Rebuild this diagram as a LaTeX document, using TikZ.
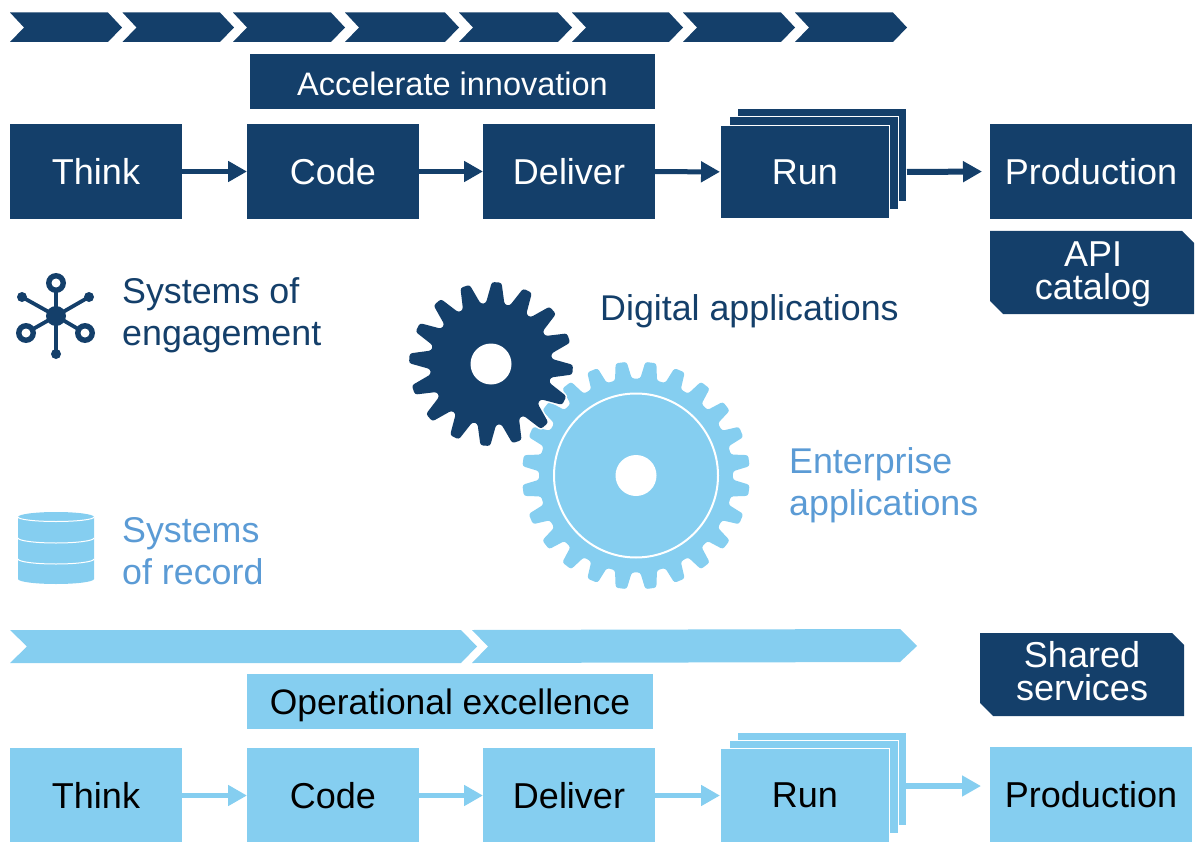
\documentclass[tikz,border=0pt]{standalone}
\usepackage{fontspec}
\setmainfont{Liberation Sans}
\usetikzlibrary{arrows.meta}
\definecolor{navy}{HTML}{143F6A}
\definecolor{sky}{HTML}{85CEF0}
\definecolor{skytext}{HTML}{5B9BD5}
\tikzset{
  x=1pt,y=-1pt,
  box/.style={rectangle,inner sep=0pt,outer sep=0pt,minimum width=#1,minimum height=95pt,font=\fontsize{36}{36}\selectfont},
  box/.default=172pt,
  navybox/.style={box=#1,fill=navy,text=white},
  navybox/.default=172pt,
  skybox/.style={box=#1,fill=sky,text=black},
  skybox/.default=172pt,
  stackd/.style={draw=white,line width=1pt,fill=navy},
  stackl/.style={draw=white,line width=1pt,fill=sky},
  flowd/.style={navy,line width=5pt,-{Triangle[length=19pt,width=20pt]}},
  flowl/.style={sky,line width=5pt,-{Triangle[length=19pt,width=20pt]}},
  label/.style={inner sep=0pt,anchor=base west,font=\fontsize{35.8}{35.8}\selectfont},
  two/.style={inner sep=0pt,align=center,font=\fontsize{36}{33}\selectfont,text=white},
}
% #1 draw options, #2 teeth, #3 first angle, #4 r tip, #5 r root, #6 half tip angle, #7 half base angle
\newcommand{\gearfig}[7]{%
  \path[#1,rounded corners=2.5pt] (#3-180/#2:#5 pt)
    \foreach \i [evaluate=\i as \a using {#3+(\i-1)*360/#2}] in {1,...,#2}{
      -- (\a-#7:#5 pt) -- (\a-#6:#4 pt) -- (\a+#6:#4 pt) -- (\a+#7:#5 pt)
    } -- cycle;}
\begin{document}
\begin{tikzpicture}
\useasboundingbox (0,0) rectangle (1196,842);
% top chevrons
\foreach \s/\e in {10/122,122.5/234,233/345,345/459,459/572,572/683,683/795,795/907}{
  \pgfmathsetmacro{\ee}{\e}
  \fill[navy] (\s,12.5) -- (\ee-14,12.5) -- (\ee,27.5) -- (\ee-14,42) -- (\s,42) -- (\s+14,27.5) -- cycle;
}
\node[navybox=405pt,minimum height=55pt,anchor=north west,font=\fontsize{32.5}{32.5}\selectfont,text height=29pt,text depth=0pt] (accel) at (250,54) {Accelerate innovation};
% top row
\node[navybox,anchor=north west] (think) at (10,124) {Think};
\node[navybox,anchor=north west] (code) at (247,124) {Code};
\node[navybox,anchor=north west] (deliver) at (483,124) {Deliver};
\node[stackd,minimum width=169pt,minimum height=93pt,inner sep=0pt,anchor=north west] (runc) at (737,108) {};
\node[stackd,minimum width=169pt,minimum height=93pt,inner sep=0pt,anchor=north west] (runb) at (729,116) {};
\node[stackd,minimum width=169pt,minimum height=93pt,inner sep=0pt,anchor=north west,font=\fontsize{36}{36}\selectfont,text=white] (run) at (720,125) {Run};
\node[navybox=202pt,anchor=north west] (prod) at (990,124) {Production};
\fill[navy] (990,231) -- (1182,231) -- (1194,243) -- (1194,314) -- (1003,314) -- (990,301) -- cycle;
\node[two] (api) at (1093,274) {API\\catalog};
\draw[flowd] (think) -- (code);
\draw[flowd] (code) -- (deliver);
\draw[flowd] (deliver) -- (run);
\draw[flowd,line width=6pt,shorten >=8pt] (run.east -| runc.east) -- (prod.west);
% icons
\begin{scope}[navy,line width=3.8pt]
\coordinate (hub) at (56,316);
\foreach \p in {(56,283),(22,297),(89,297),(26,333),(85,333),(56,354)} \draw (hub) -- \p;
\fill (hub) circle (10);
\fill (22,297) circle (5); \fill (89,297) circle (5); \fill (56,354) circle (5);
\foreach \p in {(56,283),(26,333),(85,333)}{\fill \p circle (10); \fill[white] \p circle (4.5);}
\end{scope}
\node[label,text=navy] (soe1) at (122,303.5) {Systems of};
\node[label,text=navy] (soe2) at (122,345.5) {engagement};
\node[label,text=navy] (dig) at (600,320.5) {Digital applications};
\node[label,text=skytext] (ent1) at (789,473.5) {Enterprise};
\node[label,text=skytext] (ent2) at (789,515.5) {applications};
\node[label,text=skytext] (sor1) at (122,542.5) {Systems};
\node[label,text=skytext] (sor2) at (122,584.5) {of record};
% database
\fill[sky] (18,517) arc[start angle=180,end angle=360,x radius=38,y radius=5] -- (94,579) arc[start angle=0,end angle=180,x radius=38,y radius=5] -- cycle;
\draw[white,line width=1pt] (18,517) arc[start angle=180,end angle=0,x radius=38,y radius=4.5];
\draw[white,line width=1pt] (18,538) arc[start angle=180,end angle=0,x radius=38,y radius=5];
\draw[white,line width=1pt] (18,559) arc[start angle=180,end angle=0,x radius=38,y radius=5];
% gears
\begin{scope}[shift={(636,475.5)}]
\gearfig{fill=sky}{24}{7.5}{114}{97}{2.8}{5}
\fill[white] (0,0) circle (20.5);
\draw[white,line width=2pt] (0,0) circle (82);
\end{scope}
\begin{scope}[shift={(491,364)}]
\gearfig{draw=white,line width=3pt}{16}{86}{82}{61}{3.4}{8.8}
\gearfig{fill=navy}{16}{86}{82}{61}{3.4}{8.8}
\fill[white] (0,0) circle (20.5);
\end{scope}
% bottom chevrons
\fill[sky] (10,630) -- (461,630) -- (477,646.5) -- (461,663) -- (10,663) -- (27,646.5) -- cycle;
\fill[sky] (472,663) -- (488,646.5) -- (472,630) -- (900,629) -- (917,646) -- (900,662) -- cycle;
\node[skybox=406pt,minimum height=55pt,anchor=north west,font=\fontsize{35.4}{35.4}\selectfont,text height=25pt,text depth=0pt] (oper) at (247,674) {Operational excellence};
\fill[navy] (980,633) -- (1172,633) -- (1184,645) -- (1184,716) -- (993,716) -- (980,703) -- cycle;
\node[two] (shared) at (1082,671) {Shared\\services};
% bottom row
\node[skybox,anchor=north west] (think2) at (10,748) {Think};
\node[skybox,anchor=north west] (code2) at (247,748) {Code};
\node[skybox,anchor=north west] (deliver2) at (483,748) {Deliver};
\node[stackl,minimum width=169pt,minimum height=93pt,inner sep=0pt,anchor=north west] (runc2) at (737,732) {};
\node[stackl,minimum width=169pt,minimum height=93pt,inner sep=0pt,anchor=north west] (runb2) at (729,740) {};
\node[stackl,minimum width=169pt,minimum height=94pt,inner sep=0pt,anchor=north west,font=\fontsize{36}{36}\selectfont,text=black] (run2) at (720,748) {Run};
\node[skybox=202pt,anchor=north west] (prod2) at (990,747) {Production};
\draw[flowl] (think2) -- (code2);
\draw[flowl] (code2) -- (deliver2);
\draw[flowl] (deliver2) -- (run2);
\coordinate (runout) at (905,786);
\draw[flowl,line width=6pt,shorten >=9pt] (runout) -- (runout -| prod2.west);
\end{tikzpicture}
\end{document}
